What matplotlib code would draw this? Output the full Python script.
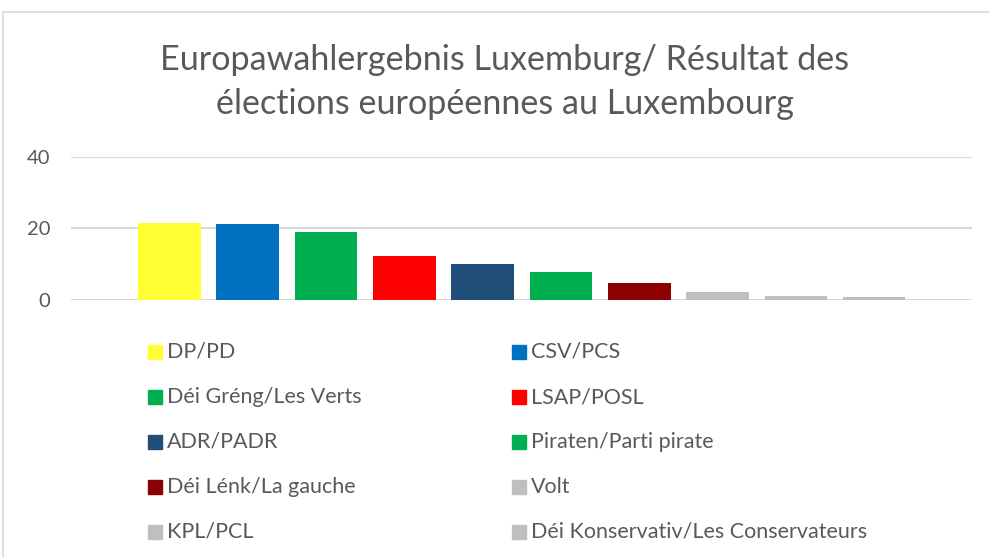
import numpy as np
import matplotlib.pyplot as plt
from matplotlib.patches import Rectangle

parties = ["DP/PD", "CSV/PCS", "Déi Gréng/Les Verts", "LSAP/POSL", "ADR/PADR",
           "Piraten/Parti pirate", "Déi Lénk/La gauche", "Volt", "KPL/PCL",
           "Déi Konservativ/Les Conservateurs"]
votes = [21.4, 21.1, 18.9, 12.2, 10.0, 7.7, 4.8, 2.1, 1.1, 0.8]
colors = ["#FFFF33", "#0070C0", "#00B050", "#FF0000", "#1F4E79",
          "#00B050", "#8B0000", "#BFBFBF", "#BFBFBF", "#BFBFBF"]
yticks = [0, 20, 40]

plt.rcParams['font.family'] = ['Lato', 'DejaVu Sans']
txt = "#595959"
W, H = 989, 557

fig = plt.figure(figsize=(W / 100, H / 100), dpi=100)

# chart border (cut off at right/bottom)
fig.patches.append(Rectangle((3 / W, -0.1), 1.2, (H - 12) / H + 0.1, transform=fig.transFigure,
                             fill=False, edgecolor="#D9D9D9", linewidth=1.2))

ax = fig.add_axes([71 / W, 1 - 300 / H, (972 - 71) / W, (300 - 156.7) / H])
x = np.arange(len(votes))
ax.bar(x, votes, width=0.8, color=colors, zorder=3)
ax.set_xlim(-1.258, 10.25)
ax.set_ylim(0, 40)
ax.set_yticks(yticks)
ax.set_xticks([])
ax.yaxis.grid(True, color="#D9D9D9", linewidth=1.5, zorder=0)
for s in ax.spines.values():
    s.set_visible(False)
ax.tick_params(axis="y", length=0, pad=15, labelsize=14.5, labelcolor=txt)
ax.patch.set_alpha(0)

fig.text(505 / W, 1 - 60 / H, "Europawahlergebnis Luxemburg/ Résultat des",
         ha="center", va="center", fontsize=24.6, color=txt)
fig.text(505 / W, 1 - 104 / H, "élections européennes au Luxembourg",
         ha="center", va="center", fontsize=24.6, color=txt)

# legend, two columns filled row by row
col_x = [148, 512]
row_y = [352, 397, 442, 487, 532]
for i, (name, c) in enumerate(zip(parties, colors)):
    lx = col_x[i % 2]
    ly = row_y[i // 2]
    fig.patches.append(Rectangle((lx / W, 1 - (ly + 7) / H), 14 / W, 14 / H,
                                 transform=fig.transFigure, color=c))
    fig.text((lx + 19) / W, 1 - ly / H, name, ha="left", va="center",
             fontsize=15.5, color=txt)

plt.savefig("out.png", dpi=100)
